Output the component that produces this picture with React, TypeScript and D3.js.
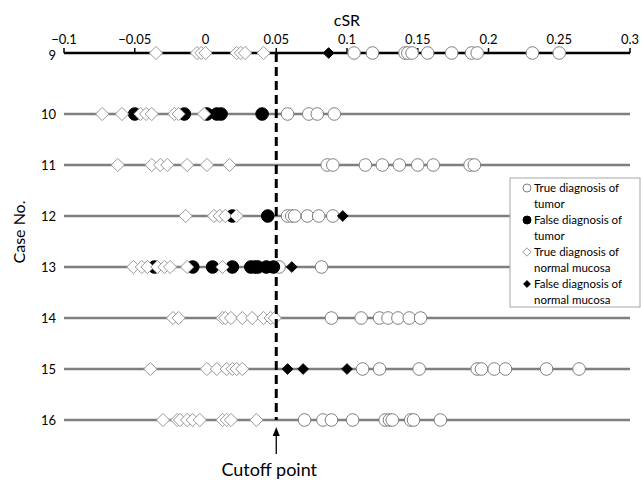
import React from 'react';
import * as d3 from 'd3';

// case numbers (rows, top to bottom)
const cases = [9, 10, 11, 12, 13, 14, 15, 16];

// cSR values per case, one array per diagnosis group
const trueTumor: number[][] = [
  [0.105, 0.118, 0.141, 0.143, 0.146, 0.157, 0.174, 0.188, 0.192, 0.231, 0.25],
  [0.058, 0.073, 0.079, 0.091],
  [0.086, 0.09, 0.113, 0.125, 0.137, 0.15, 0.161, 0.187, 0.19],
  [0.058, 0.061, 0.063, 0.072, 0.08, 0.09],
  [0.052, 0.082],
  [0.089, 0.11, 0.123, 0.129, 0.136, 0.144, 0.152],
  [0.111, 0.123, 0.151, 0.192, 0.195, 0.204, 0.212, 0.241, 0.264],
  [0.07, 0.083, 0.089, 0.104, 0.127, 0.13, 0.132, 0.145, 0.147, 0.166],
];

const falseTumor: number[][] = [
  [],
  [-0.05, -0.015, 0.001, 0.008, 0.011, 0.04],
  [],
  [0.019, 0.044],
  [-0.036, -0.009, 0.005, 0.019, 0.032, 0.035, 0.037, 0.043, 0.048],
  [],
  [],
  [],
];

const trueNormal: number[][] = [
  [-0.035, -0.006, -0.003, 0.0, 0.022, 0.025, 0.028, 0.041],
  [-0.073, -0.059, -0.046, -0.042, -0.038, -0.022, -0.019, -0.001],
  [-0.062, -0.038, -0.032, -0.027, -0.013, 0.001, 0.017],
  [-0.014, 0.006, 0.01, 0.014, 0.022],
  [-0.051, -0.045, -0.041, -0.034, -0.029, -0.025, -0.013, 0.012],
  [-0.023, -0.019, 0.012, 0.014, 0.018, 0.026, 0.033, 0.041, 0.046, 0.049],
  [-0.039, 0.001, 0.008, 0.015, 0.019, 0.022, 0.026],
  [-0.03, -0.02, -0.018, -0.013, -0.009, -0.004, 0.012, 0.015, 0.018, 0.036],
];

const falseNormal: number[][] = [
  [0.087],
  [],
  [],
  [0.097],
  [0.061],
  [],
  [0.058, 0.069, 0.1],
  [],
];

const xTicks = [-0.1, -0.05, 0, 0.05, 0.1, 0.15, 0.2, 0.25, 0.3];
const cutoff = 0.05;

const legendItems = [
  { kind: 'openCircle', lines: ['True diagnosis of', 'tumor'] },
  { kind: 'blackCircle', lines: ['False diagnosis of', 'tumor'] },
  { kind: 'openDiamond', lines: ['True diagnosis of', 'normal mucosa'] },
  { kind: 'blackDiamond', lines: ['False diagnosis of', 'normal mucosa'] },
];

const FONT = 'Lato, "Open Sans", sans-serif';

const Marker = ({ kind, x, y, r }: { kind: string; x: number; y: number; r: number }) => {
  if (kind === 'openCircle')
    return <circle cx={x} cy={y} r={r} fill="#fff" stroke="#7f7f7f" strokeWidth={1} />;
  if (kind === 'blackCircle')
    return <circle cx={x} cy={y} r={r} fill="#000" stroke="#000" strokeWidth={1} />;
  const d = r * 1.05;
  const path = `M${x},${y - d}L${x + d},${y}L${x},${y + d}L${x - d},${y}Z`;
  if (kind === 'openDiamond') return <path d={path} fill="#fff" stroke="#999" strokeWidth={1} />;
  const d2 = r * 0.85;
  return (
    <path
      d={`M${x},${y - d2}L${x + d2},${y}L${x},${y + d2}L${x - d2},${y}Z`}
      fill="#000"
      stroke="#000"
      strokeWidth={1}
    />
  );
};

export default function App() {
  const width = 641;
  const height = 481;

  const x = d3.scaleLinear().domain([-0.1, 0.3]).range([64, 630]);
  // the first case sits on the top axis, a little further from the rest
  const y = d3.scaleLinear().domain([9, 10, 16]).range([53, 114, 420]);

  const groups: { kind: string; data: number[][] }[] = [
    { kind: 'openCircle', data: trueTumor },
    { kind: 'blackCircle', data: falseTumor },
    { kind: 'openDiamond', data: trueNormal },
    { kind: 'blackDiamond', data: falseNormal },
  ];

  const axisY = y(cases[0]);
  const cx = x(cutoff);
  const lastY = y(cases[cases.length - 1]);

  const legendX = 510;
  const legendY = 178;
  const lineH = 16;

  return (
    <svg
      width={width}
      height={height}
      style={{ position: 'absolute', left: 0, top: 0, background: '#fff' }}
      fontFamily={FONT}
    >
      {/* axis title */}
      <text x={x(0.1)} y={26} textAnchor="middle" fontSize={16}>
        cSR
      </text>
      {/* top tick labels */}
      {xTicks.map((t) => (
        <text key={t} x={x(t)} y={44} textAnchor="middle" fontSize={13}>
          {d3.format('')(t)}
        </text>
      ))}

      {/* row lines */}
      {cases.slice(1).map((c) => (
        <line key={c} x1={x(-0.1)} x2={x(0.3)} y1={y(c)} y2={y(c)} stroke="#7f7f7f" strokeWidth={2.5} />
      ))}
      {/* top axis (case 9 line) */}
      <line x1={x(-0.1)} x2={x(0.3)} y1={axisY} y2={axisY} stroke="#000" strokeWidth={2.5} />
      {xTicks.map((t) => (
        <line key={t} x1={x(t)} x2={x(t)} y1={axisY} y2={axisY - 5} stroke="#000" strokeWidth={1.5} />
      ))}

      {/* case labels */}
      {cases.map((c) => (
        <text key={c} x={56} y={y(c) + (c === cases[0] ? 2 : 0)} dy="0.35em" textAnchor="end" fontSize={13}>
          {c}
        </text>
      ))}
      <text transform={`translate(25,232) rotate(-90)`} textAnchor="middle" fontSize={16}>
        Case No.
      </text>

      {/* markers */}
      {groups.map((g) =>
        g.data.map((vals, i) =>
          vals.map((v, j) => <Marker key={`${g.kind}-${i}-${j}`} kind={g.kind} x={x(v)} y={y(cases[i])} r={6.3} />)
        )
      )}

      {/* cutoff line */}
      <line x1={cx} x2={cx} y1={axisY} y2={lastY} stroke="#000" strokeWidth={3} strokeDasharray="9,5" />
      <line x1={cx} x2={cx} y1={454} y2={433} stroke="#000" strokeWidth={1.3} />
      <path d={`M${cx},427L${cx - 3.5},436L${cx + 3.5},436Z`} fill="#000" />
      <text x={cx - 7} y={476} textAnchor="middle" fontSize={18}>
        Cutoff point
      </text>

      {/* legend */}
      <rect x={legendX} y={legendY} width={130} height={129} fill="#fff" stroke="#a6a6a6" strokeWidth={1} />
      {legendItems.map((item, i) => (
        <g key={item.kind}>
          <Marker kind={item.kind} x={legendX + 17} y={legendY + 10 + i * lineH * 2} r={4} />
          {item.lines.map((ln, k) => (
            <text
              key={k}
              x={legendX + 24}
              y={legendY + 10 + i * lineH * 2 + k * lineH}
              dy="0.35em"
              fontSize={11.5}
            >
              {ln}
            </text>
          ))}
        </g>
      ))}
    </svg>
  );
}
